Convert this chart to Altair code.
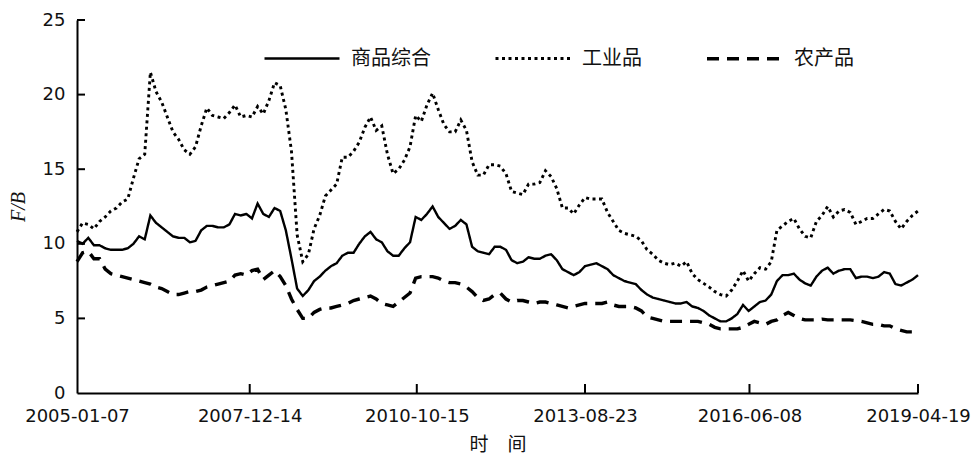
import altair as alt
import pandas as pd

# ---- data (one value every 5 weeks) ----
start_date = "2005-01-07"
n_points = 150
step = "35D"
dates = [d.strftime("%Y-%m-%d") for d in pd.date_range(start_date, periods=n_points, freq=step)]

series_names = ["商品综合", "工业品", "农产品"]

composite = [
    10.2, 10.0, 10.4, 9.9, 9.9, 9.7, 9.6, 9.6, 9.6, 9.7,
    10.0, 10.5, 10.3, 11.9, 11.4, 11.1, 10.8, 10.5, 10.4, 10.4,
    10.1, 10.2, 10.9, 11.2, 11.2, 11.1, 11.1, 11.3, 12.0, 11.9,
    12.0, 11.7, 12.7, 12.0, 11.8, 12.4, 12.2, 10.9, 9.0, 7.0,
    6.5, 6.9, 7.5, 7.8, 8.2, 8.5, 8.7, 9.2, 9.4, 9.4,
    10.0, 10.5, 10.8, 10.3, 10.1, 9.5, 9.2, 9.2, 9.7, 10.1,
    11.8, 11.6, 12.0, 12.5, 11.8, 11.4, 11.0, 11.2, 11.6, 11.3,
    9.8, 9.5, 9.4, 9.3, 9.8, 9.8, 9.6, 8.9, 8.7, 8.8,
    9.1, 9.0, 9.0, 9.2, 9.3, 8.9, 8.3, 8.1, 7.9, 8.1,
    8.5, 8.6, 8.7, 8.5, 8.3, 7.9, 7.7, 7.5, 7.4, 7.3,
    6.9, 6.6, 6.4, 6.3, 6.2, 6.1, 6.0, 6.0, 6.1, 5.8,
    5.7, 5.5, 5.2, 5.0, 4.8, 4.8, 5.0, 5.3, 5.9, 5.5,
    5.8, 6.1, 6.2, 6.6, 7.5, 7.9, 7.9, 8.0, 7.6, 7.35,
    7.2, 7.8, 8.2, 8.4, 8.0, 8.2, 8.3, 8.3, 7.7, 7.8,
    7.8, 7.7, 7.8, 8.1, 8.0, 7.3, 7.2, 7.4, 7.6, 7.9,
]

industrial = [
    10.8, 11.4, 11.3, 11.0, 11.5, 11.8, 12.2, 12.4, 12.8, 13.0,
    14.4, 15.7, 16.0, 21.5, 20.2, 19.5, 18.5, 17.5, 17.0, 16.3,
    16.0, 16.5, 17.9, 19.1, 18.6, 18.5, 18.4, 18.8, 19.3, 18.5,
    18.6, 18.5, 19.2, 18.7, 19.6, 20.8, 20.6, 19.0, 16.2, 10.6,
    8.8, 9.3, 11.0, 11.9, 13.2, 13.6, 14.0, 15.8, 15.8, 16.2,
    16.8, 17.8, 18.5, 17.6, 17.9, 16.0, 14.7, 15.0, 15.6, 16.5,
    18.6, 18.2, 19.3, 20.1, 19.0, 18.0, 17.5, 17.5, 18.3, 17.6,
    15.5, 14.6, 14.6, 15.3, 15.3, 15.2, 14.7, 13.5, 13.4, 13.3,
    14.0, 14.0, 14.1, 14.9, 14.5, 13.7, 12.4, 12.4, 12.0, 12.6,
    13.1, 13.0, 13.0, 13.0, 12.1, 11.5, 10.9, 10.7, 10.6, 10.5,
    10.2, 9.6, 9.3, 8.9, 8.7, 8.6, 8.7, 8.5, 8.8, 8.0,
    7.6, 7.35, 7.1, 6.8, 6.6, 6.5, 6.9, 7.5, 8.2, 7.5,
    8.0, 8.4, 8.3, 8.8, 10.9, 11.2, 11.5, 11.7, 11.0, 10.5,
    10.4, 11.5, 11.9, 12.5, 11.8, 12.2, 12.3, 12.1, 11.3, 11.5,
    11.7, 11.7, 12.0, 12.3, 12.2, 11.5, 11.0, 11.5, 11.9, 12.2,
]

agricultural = [
    8.8, 9.4, 9.5, 9.0, 9.0, 8.3, 8.0, 7.9, 7.8, 7.7,
    7.6, 7.5, 7.4, 7.3, 7.1, 7.0, 6.8, 6.6, 6.6, 6.7,
    6.8, 6.8, 6.9, 7.1, 7.2, 7.3, 7.4, 7.5, 7.9, 8.0,
    7.9, 8.2, 8.3, 7.6, 7.9, 8.2, 7.8, 7.2, 6.3, 5.6,
    5.0, 5.0, 5.4, 5.6, 5.7, 5.7, 5.8, 5.9, 6.0, 6.2,
    6.3, 6.4, 6.5, 6.3, 6.0, 5.9, 5.8, 6.1, 6.4, 6.7,
    7.7, 7.8, 7.8, 7.8, 7.7, 7.5, 7.4, 7.4, 7.3, 7.1,
    6.8, 6.4, 6.2, 6.3, 6.6, 6.7, 6.3, 6.1, 6.2, 6.2,
    6.1, 6.0, 6.1, 6.1, 6.0, 5.9, 5.8, 5.7, 5.8, 5.9,
    6.0, 6.0, 6.0, 6.0, 6.1, 5.9, 5.8, 5.8, 5.8, 5.7,
    5.5, 5.1, 5.0, 4.9, 4.8, 4.8, 4.8, 4.8, 4.8, 4.8,
    4.8, 4.7, 4.6, 4.4, 4.3, 4.3, 4.3, 4.3, 4.4, 4.6,
    4.8, 4.7, 4.6, 4.8, 4.9, 5.2, 5.4, 5.2, 5.0, 4.9,
    4.9, 4.9, 4.95, 4.9, 4.9, 4.9, 4.9, 4.9, 4.85, 4.8,
    4.7, 4.6, 4.6, 4.5, 4.5, 4.3, 4.2, 4.1, 4.1, 4.0,
]

tick_dates = ["2005-01-07", "2007-12-14", "2010-10-15", "2013-08-23", "2016-06-08", "2019-04-19"]
y_ticks = [0, 5, 10, 15, 20, 25]

# ---- tables ----
rows = []
for name, vals in zip(series_names, [composite, industrial, agricultural]):
    for d, v in zip(dates, vals):
        rows.append({"date": d, "value": v, "series": name})
df = pd.DataFrame(rows)

xtick_df = pd.DataFrame({"date": tick_dates[1:]})
ytick_df = pd.DataFrame({"value": y_ticks[1:]})


def dt(s):
    y, m, d = (int(p) for p in s.split("-"))
    return alt.DateTime(year=y, month=m, date=d, utc=True)


W, H = 841, 373
x_scale = alt.Scale(type="utc", domain=[dt(tick_dates[0]), dt(tick_dates[-1])], nice=False)
y_scale = alt.Scale(domain=[0, 25], nice=False)

lines = alt.Chart(df).mark_line(color="black").encode(
    x=alt.X(
        "date:T",
        scale=x_scale,
        axis=alt.Axis(
            values=[dt(s) for s in tick_dates],
            labelExpr="utcFormat(datum.value, '%Y-%m-%d')",
            ticks=False,
            grid=False,
            domainColor="black",
            domainWidth=2,
            labelFont="DejaVu Sans",
            labelFontSize=18,
            labelColor="#111",
            labelPadding=14,
            labelOverlap=False,
            labelFlush=False,
            labelBound=False,
            title="时　间",
            titleFont="Noto Sans CJK SC",
            titleFontSize=19,
            titleFontWeight="normal",
            titleColor="#111",
            titlePadding=10,
        ),
    ),
    y=alt.Y(
        "value:Q",
        scale=y_scale,
        axis=alt.Axis(
            values=y_ticks,
            ticks=False,
            grid=False,
            domainColor="black",
            domainWidth=2,
            labelFont="DejaVu Sans",
            labelFontSize=18,
            labelColor="#111",
            labelPadding=12,
            title="F/B",
            titleFont="Liberation Serif",
            titleFontStyle="italic",
            titleFontSize=20,
            titleFontWeight="normal",
            titleColor="#111",
            titlePadding=14,
        ),
    ),
    strokeDash=alt.StrokeDash(
        "series:N",
        scale=alt.Scale(domain=series_names, range=[[1, 0], [3, 3.5], [12, 8]]),
        legend=alt.Legend(
            orient="none",
            legendX=186,
            legendY=-1,
            direction="horizontal",
            title=None,
            symbolType="stroke",
            symbolSize=5625,
            symbolStrokeColor="black",
            symbolStrokeWidth=3.5,
            labelFont="Noto Sans CJK SC",
            labelFontSize=20,
            labelColor="#111",
            labelOffset=10,
            columnPadding=58,
        ),
    ),
    strokeWidth=alt.StrokeWidth(
        "series:N",
        scale=alt.Scale(domain=series_names, range=[2.4, 3.4, 4.4]),
        legend=None,
    ),
)

yticks = alt.Chart(ytick_df).mark_rule(color="black", strokeWidth=2).encode(
    y=alt.Y("value:Q", scale=y_scale),
    x=alt.value(0),
    x2=alt.value(8),
)

xticks = alt.Chart(xtick_df).mark_rule(color="black", strokeWidth=2).encode(
    x=alt.X("date:T", scale=x_scale),
    y=alt.value(H),
    y2=alt.value(H - 9),
)

chart = alt.layer(lines, yticks, xticks).properties(
    width=W,
    height=H,
    autosize=alt.AutoSizeParams(type="none"),
    padding={"left": 69, "top": 12, "right": 53, "bottom": 61},
    background="white",
).configure_view(stroke=None)

chart.save("out.html", embed_options={"renderer": "svg", "actions": False})
